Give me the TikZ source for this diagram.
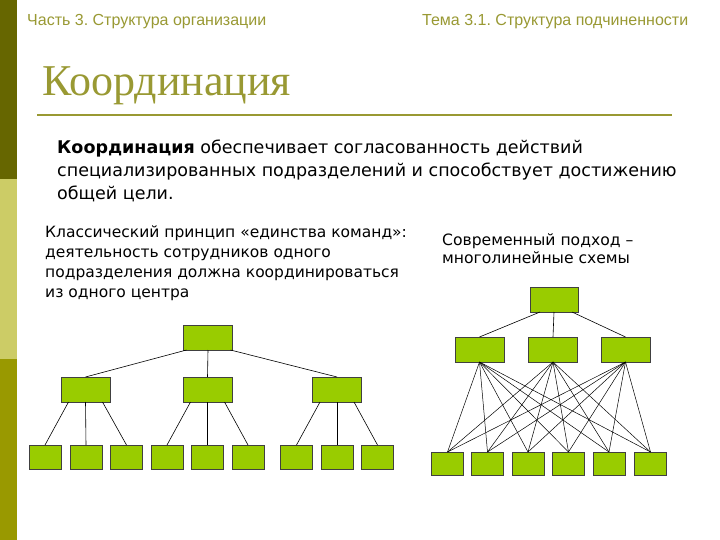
\documentclass[tikz,border=0pt]{standalone}
\usepackage{fontspec}
\setmainfont{DejaVu Sans}
\newfontfamily\hdrfont{Liberation Sans}
\newfontfamily\ttlfont{Liberation Serif}
\definecolor{barA}{HTML}{666600}
\definecolor{barB}{HTML}{CCCC66}
\definecolor{barC}{HTML}{999900}
\definecolor{olivetxt}{HTML}{999933}
\definecolor{boxgreen}{HTML}{99CC00}
\tikzset{
  hdr/.style={anchor=base west, inner sep=0, text=olivetxt, font=\hdrfont\fontsize{16}{19}\selectfont},
  ttl/.style={anchor=base west, inner sep=0, text=olivetxt, font=\ttlfont\fontsize{44}{50}\selectfont},
  body/.style={anchor=base west, inner sep=0, font=\fontsize{17.5}{21}\selectfont},
  sub/.style={anchor=base west, inner sep=0, font=\fontsize{15.5}{18}\selectfont},
  bigbox/.style={draw=black!75, line width=0.7pt, fill=boxgreen, minimum width=49pt, minimum height=25pt, inner sep=0, outer sep=0},
  smallbox/.style={draw=black!75, line width=0.7pt, fill=boxgreen, minimum width=32pt, minimum height=24pt, inner sep=0, outer sep=0},
  link/.style={draw=black, line width=0.6pt}
}
\begin{document}
\frenchspacing
\begin{tikzpicture}[x=1pt,y=-1pt]
\useasboundingbox (0,0) rectangle (720,540);
\fill[white] (0,0) rectangle (720,540);
% left bar
\fill[barA] (0,0) rectangle (17,179);
\fill[barB] (0,179) rectangle (17,359);
\fill[barC] (0,359) rectangle (17,540);
% headers
\node[hdr] (h1) at (27,26) {Часть 3. Структура организации};
\node[hdr] (h2) at (422,26) {Тема 3.1. Структура подчиненности};
% title
\node[ttl] (title) at (42,96) {Координация};
\draw[olivetxt, line width=2pt] (37,115) -- (672,115);
% body
\node[body] (b1) at (57,154) {\textbf{Координация} обеспечивает согласованность действий};
\node[body] (b2) at (57,177) {специализированных подразделений и способствует достижению};
\node[body] (b3) at (57,200) {общей цели.};
% left paragraph
\node[sub] (l1) at (45,237) {Классический принцип «единства команд»:};
\node[sub] (l2) at (45,257) {деятельность сотрудников одного};
\node[sub] (l3) at (45,277) {подразделения должна координироваться};
\node[sub] (l4) at (45,297) {из одного центра};
% right paragraph
\node[sub, font=\fontsize{15.6}{18}\selectfont] (r1) at (442,245) {Современный подход –};
\node[sub, font=\fontsize{15.6}{18}\selectfont] (r2) at (442,263) {многолинейные схемы};
% left tree
\node[bigbox] (lt) at (208,337.5) {};
\node[bigbox] (lm1) at (85.5,389.5) {};
\node[bigbox] (lm2) at (207.5,389.5) {};
\node[bigbox] (lm3) at (337,389.5) {};
\foreach \n/\x in {1/45,2/86,3/126.5,4/167,5/207.5,6/248,7/296.5,8/337,9/377.5}
  \node[smallbox] (lb\n) at (\x,457) {};
\draw[link] ([xshift=3pt]lt.south west) -- (lm1.north);
\draw[link] (lt.south) -- (lm2.north);
\draw[link] ([xshift=-2pt]lt.south east) -- (lm3.north);
\foreach \m/\a/\b/\c in {1/1/2/3,2/4/5/6,3/7/8/9}{
  \draw[link] ([xshift=-17pt]lm\m.south) -- (lb\a.north);
  \draw[link] (lm\m.south) -- (lb\b.north);
  \draw[link] ([xshift=17pt]lm\m.south) -- (lb\c.north);
}
% right tree
\node[bigbox, minimum width=48pt] (rt) at (554,299.5) {};
\node[bigbox] (rm1) at (479.5,349.5) {};
\node[bigbox] (rm2) at (553,349.5) {};
\node[bigbox] (rm3) at (625.5,349.5) {};
\foreach \n/\x in {1/447.5,2/487.5,3/528,4/568.5,5/609,6/650.5}
  \node[smallbox, minimum height=23pt] (rb\n) at (\x,463.5) {};
\draw[link] ([xshift=10pt]rt.south west) -- (rm1.north);
\draw[link] (rt.south) -- (rm2.north);
\draw[link] ([xshift=-6pt]rt.south east) -- (rm3.north);
\foreach \m in {1,2,3}
  \foreach \n in {1,...,6}
    \draw[link, line width=0.5pt] (rm\m.south) -- (rb\n.north);
\end{tikzpicture}
\end{document}
